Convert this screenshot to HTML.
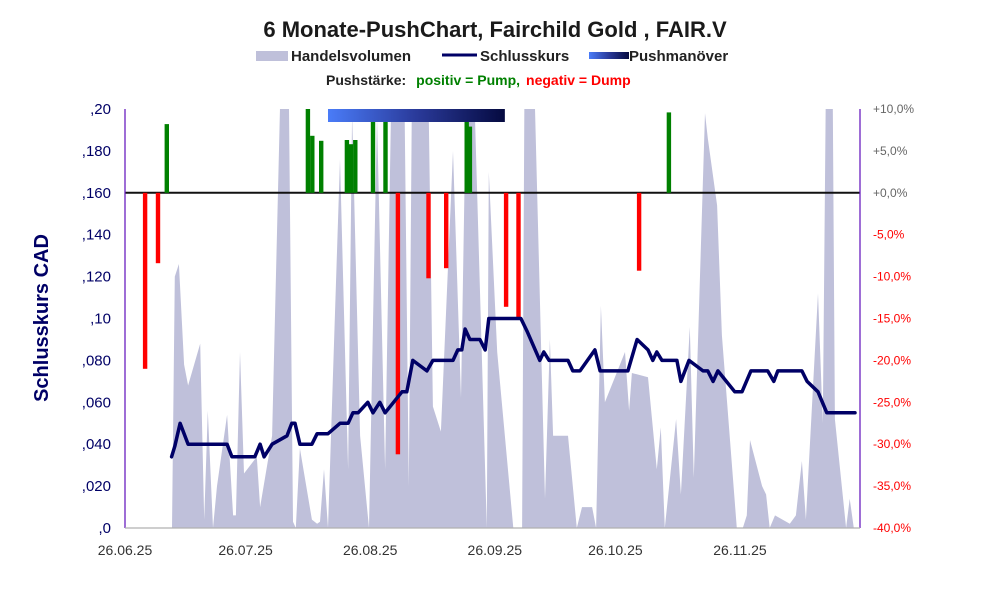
<!DOCTYPE html>
<html><head><meta charset="utf-8">
<style>
html,body{margin:0;padding:0;background:#fff;}
svg text{font-family:"Liberation Sans",Arial,sans-serif;}
</style></head>
<body>
<svg id="chart" width="991" height="593" viewBox="0 0 991 593" xmlns="http://www.w3.org/2000/svg">
<defs>
<linearGradient id="pushGrad" x1="0" x2="1" y1="0" y2="0">
<stop offset="0" stop-color="#4a7cf8"/><stop offset="0.5" stop-color="#2a3a9a"/><stop offset="1" stop-color="#050a40"/>
</linearGradient>
<clipPath id="plotClip"><rect x="125" y="109" width="735" height="419"/></clipPath>
</defs>
<text x="495" y="37" text-anchor="middle" font-size="22" font-weight="bold" fill="#1a1a1a">6 Monate-PushChart, Fairchild Gold , FAIR.V</text>
<g font-size="15" font-weight="bold" fill="#222">
<rect x="256" y="51" width="32" height="10" fill="#bfc0da"/>
<text x="291" y="61">Handelsvolumen</text>
<line x1="442" y1="55" x2="477" y2="55" stroke="#000066" stroke-width="3"/>
<text x="480" y="61">Schlusskurs</text>
<rect x="589" y="52" width="40" height="7" fill="url(#pushGrad)"/>
<text x="629" y="61">Pushmanöver</text>
</g>
<text x="326" y="85" font-size="14" font-weight="bold" fill="#222">Pushstärke:<tspan dx="10" fill="#008000">positiv = Pump,</tspan><tspan dx="6" fill="#ff0000">negativ = Dump</tspan></text>
<text transform="translate(48,318) rotate(-90)" text-anchor="middle" font-size="20" font-weight="bold" fill="#000066">Schlusskurs CAD</text>
<g id="plot"></g>
</svg>
<script>
// ---- data ----
const volDays = [11.7,12.4,13.4,14.7,15.7,18.7,19.7,20.6,21.9,22.9,25.4,26.9,27.6,28.6,29.6,32.8,33.6,36.6,39.3,40.5,41.8,42.5,43.5,46.5,47.8,48.5,49.5,50.5,53.5,55.5,56.5,58.5,60.7,62.7,64.7,66.7,69.2,70.6,71.6,75.1,76.6,78.6,81.6,83.6,85.3,87.1,90.0,90.5,92.6,96.6,98.8,99.5,101.2,104.5,105.7,106.5,110.2,112.4,113.7,116.2,117.2,118.4,119.4,124.4,125.4,126.1,130.1,132.3,133.3,134.3,137.1,138.3,140.5,141.5,144.3,145.0,147.3,148.5,152.2,153.7,154.7,155.5,158.5,159.5,160.4,161.7,165.4,166.9,168.4,169.4,172.4,173.6,174.6,175.9,176.6,179.4,180.3,181.3];
const volValues = [0,60,63,39,34,44,2,28,0,10,27,3,3,42,13,17,5,22,130,130,1.5,0,19,2,1,1.5,14,0,88,14,99,22,0,98,14,130,130,10,130,130,29,23,90,31,130,97,0,85,42,0,0,130,130,7,45,22,22,0,5,5,0,53,30,42,28,37,36,14,24,0,26,8,48,12,99,93,77,46,0,0,3,21,10,8,0,3,1,3,16,2,56,25,130,130,26,0,7,0];
const priceDays = [11.6,12.4,13.7,15.7,25.4,26.6,32.3,33.6,34.6,36.6,40.3,41.5,42.3,43.5,46.5,47.8,50.5,53.5,55.5,56.7,58.0,60.4,61.7,63.4,64.7,68.9,70.1,71.6,75.1,76.6,81.6,82.8,83.8,84.6,85.8,88.3,89.6,90.5,98.5,100.0,103.2,104.2,105.5,110.2,111.4,113.2,116.9,118.2,125.1,127.4,130.1,131.3,132.3,133.6,137.3,138.3,140.3,143.8,145.0,146.3,147.5,151.7,153.5,155.7,159.9,161.4,162.4,168.4,169.7,172.4,174.6,181.6];
const priceValues = [0.034,0.039,0.050,0.040,0.040,0.034,0.034,0.040,0.034,0.040,0.044,0.050,0.050,0.040,0.040,0.045,0.045,0.050,0.050,0.055,0.055,0.060,0.055,0.060,0.055,0.065,0.065,0.080,0.075,0.080,0.080,0.085,0.085,0.095,0.090,0.090,0.085,0.100,0.100,0.094,0.080,0.084,0.080,0.080,0.075,0.075,0.085,0.075,0.075,0.090,0.085,0.080,0.084,0.080,0.080,0.070,0.080,0.075,0.075,0.070,0.075,0.065,0.065,0.075,0.075,0.070,0.075,0.075,0.070,0.065,0.055,0.055];
const pushDays = [5.0,8.2,10.4,45.5,46.6,48.8,55.2,56.2,57.3,61.7,64.8,67.9,75.5,79.9,85.0,85.8,94.8,97.9,127.9,135.3];
const pushValues = [-21,-8.4,8.2,10,6.8,6.2,6.3,5.8,6.3,10,10,-31.2,-10.2,-9,9,7.9,-13.6,-15,-9.3,9.6];
const pushManeuver = [50.5, 94.5];
const leftTicks = [0,0.02,0.04,0.06,0.08,0.10,0.12,0.14,0.16,0.18,0.20];
const leftTickLabels = [",0",",020",",040",",060",",080",",10",",120",",140",",160",",180",",20"];
const rightTicks = [-40,-35,-30,-25,-20,-15,-10,-5,0,5,10];
const rightTickLabels = ["-40,0%","-35,0%","-30,0%","-25,0%","-20,0%","-15,0%","-10,0%","-5,0%","+0,0%","+5,0%","+10,0%"];
const dateTicks = [0,30,61,92,122,153];
const dateLabels = ["26.06.25","26.07.25","26.08.25","26.09.25","26.10.25","26.11.25"];

// ---- axes ----
const X0=125,X1=860,Y0=528,Y1=109;
const xScale = d => X0 + d*(740-125)/153;
const yLeft = v => Y0 - (v-0)/(0.2)*(Y0-Y1);
const yRight = p => Y0 - (p+40)/50*(Y0-Y1);
const yVol = v => Y0 - v/100*(Y0-Y1);

const NS="http://www.w3.org/2000/svg";
const plot=document.getElementById('plot');
function mk(tag,attrs,parent){const e=document.createElementNS(NS,tag);for(const k in attrs)e.setAttribute(k,attrs[k]);(parent||plot).appendChild(e);return e;}

const clipG = mk('g',{'clip-path':'url(#plotClip)'});



// volume area
let d='M'+xScale(volDays[0])+','+Y0;
volDays.forEach((v,i)=>{d+=' L'+xScale(v).toFixed(1)+','+yVol(volValues[i]).toFixed(1);});
d+=' L'+xScale(volDays[volDays.length-1])+','+Y0+' Z';
const area=mk('path',{d:d,fill:'#bfc0da'},clipG);



// zero line
const zl=mk('line',{x1:X0,x2:X1,y1:yRight(0),y2:yRight(0),stroke:'#111','stroke-width':2},clipG);



// push bars
pushDays.forEach((pd,i)=>{
  const v=pushValues[i];const x=xScale(pd);
  const ya=yRight(Math.max(v,0)), yb=yRight(Math.min(v,0));
  const r=mk('rect',{x:(x-2.2).toFixed(1),y:ya.toFixed(1),width:4.4,height:(yb-ya).toFixed(1),fill:v>=0?'#008000':'#ff0000'},clipG);
  
  
});

// push maneuver bar
const pm=mk('rect',{x:xScale(pushManeuver[0]),y:109,width:xScale(pushManeuver[1])-xScale(pushManeuver[0]),height:13,fill:'url(#pushGrad)'},clipG);



// price line
const pts=priceDays.map((p,i)=>xScale(p).toFixed(1)+','+yLeft(priceValues[i]).toFixed(1)).join(' ');
const pl=mk('polyline',{points:pts,fill:'none',stroke:'#000066','stroke-width':3.5,'stroke-linejoin':'round','stroke-linecap':'round'});



// axis lines
const la=mk('line',{x1:X0,x2:X0,y1:Y1,y2:Y0,stroke:'#6a1fc0','stroke-width':1.3});


const ra=mk('line',{x1:X1,x2:X1,y1:Y1,y2:Y0,stroke:'#6a1fc0','stroke-width':1.3});


const ba=mk('line',{x1:X0,x2:X1,y1:Y0,y2:Y0,stroke:'#b0b0b0','stroke-width':1.3});



leftTicks.forEach((t,i)=>{
  const tx=mk('text',{x:111,y:(yLeft(t)+5).toFixed(1),'text-anchor':'end','font-size':15,fill:'#000066'});
  tx.textContent=leftTickLabels[i];
  
  
});
rightTicks.forEach((t,i)=>{
  const tx=mk('text',{x:873,y:(yRight(t)+4).toFixed(1),'font-size':12,fill:t<0?'#ff0000':'#666'});
  tx.textContent=rightTickLabels[i];
  
  
});
dateTicks.forEach((t,i)=>{
  const tx=mk('text',{x:xScale(t).toFixed(1),y:555,'text-anchor':'middle','font-size':14,fill:'#333'});
  tx.textContent=dateLabels[i];
  
  
});
</script>
</body></html>
